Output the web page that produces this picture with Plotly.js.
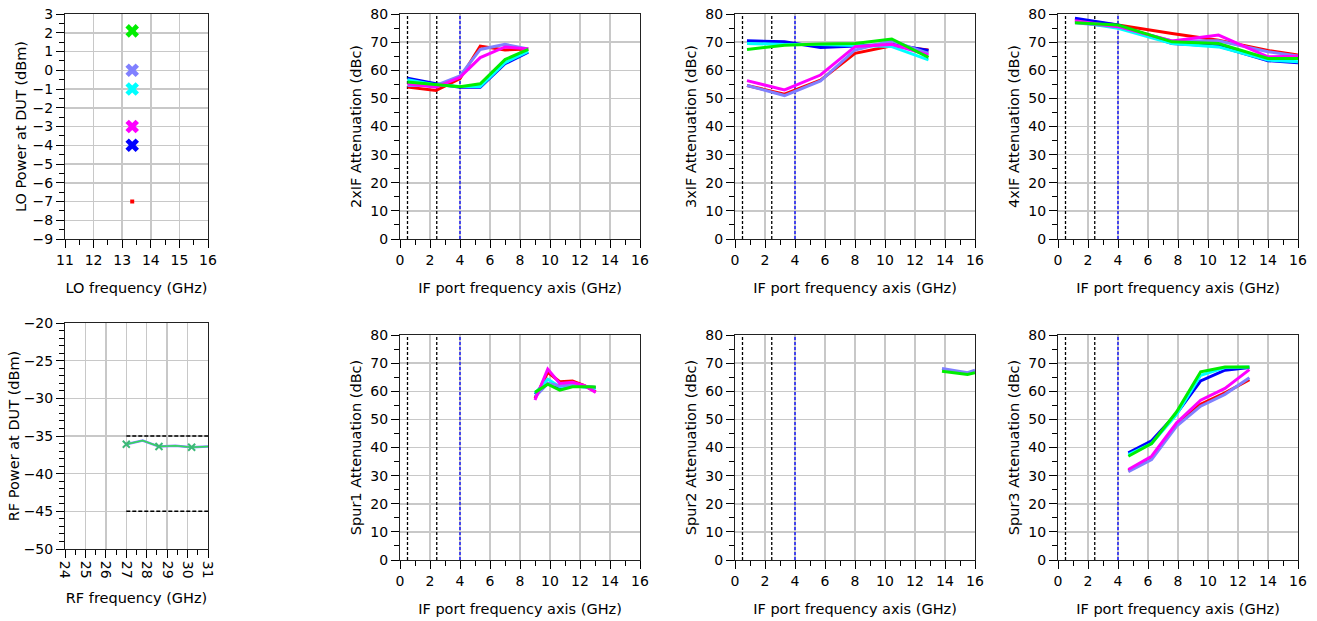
<!DOCTYPE html>
<html>
<head>
<meta charset="utf-8">
<script src="https://cdn.plot.ly/plotly-3.0.1.min.js"></script>
<style>html,body{margin:0;padding:0;background:#fff;}#chart{width:1317px;height:621px;}</style>
</head>
<body>
<div id="chart"></div>
<script>
// ---------- data ----------
const seriesNames = ['LO -7 dBm', 'LO -4 dBm', 'LO -3 dBm', 'LO -1 dBm', 'LO 0 dBm', 'LO +2 dBm'];
// LO panel
const loFreq = [13.35, 13.35, 13.35, 13.35, 13.35, 13.35];
const loPower = [-7, -4, -3, -1, 0, 2.1];
// RF panel
const rfFreq = [27, 27.8, 28.6, 29.4, 30.2, 31];
const rfPower = [-36.1, -35.6, -36.4, -36.3, -36.5, -36.4];
const rfMarkFreq = [27, 28.6, 30.2];
const rfMarkPower = [-36.1, -36.4, -36.5];
const rfLimitFreq = [27, 31];
const rfLimits = [-35, -45];
// IF reference lines
const ifBlackLines = [0.5, 2.45];
const ifBlueLine = 4;
// 2xIF
const if2Freq = [0.5, 2.4, 4.0, 5.35, 7.0, 8.55];
const if2Att = [
  [54.0, 52.8, 57.0, 68.6, 67.2, 67.6],
  [57.2, 55.2, 54.0, 54.0, 62.3, 66.4],
  [55.2, 54.0, 57.5, 64.5, 68.3, 67.6],
  [56.6, 54.8, 54.2, 54.2, 62.7, 66.7],
  [54.6, 54.6, 58.0, 67.4, 69.2, 67.6],
  [55.8, 54.8, 54.1, 55.2, 63.8, 67.4]
];
// 3xIF
const if3Freq = [0.8, 3.3, 5.7, 8.0, 10.45, 12.9];
const if3Att = [
  [54.6, 51.5, 56.5, 66.0, 68.7, 67.2],
  [70.5, 70.1, 68.1, 68.7, 69.2, 67.0],
  [56.3, 53.0, 58.3, 68.4, 69.2, 65.4],
  [69.5, 69.2, 69.2, 68.7, 68.4, 63.7],
  [54.6, 51.0, 56.2, 67.2, 70.5, 66.0],
  [67.4, 68.9, 69.3, 69.5, 71.1, 64.6]
];
// 4xIF
const if4Freq = [1.13, 4.0, 7.6, 10.7, 14.0, 16.0];
const if4Att = [
  [77.9, 76.1, 73.1, 70.7, 67.0, 65.4],
  [78.5, 76.1, 69.5, 68.6, 63.4, 62.7],
  [77.6, 75.5, 70.4, 72.5, 64.8, 65.0],
  [77.3, 74.9, 69.5, 68.3, 63.6, 63.0],
  [76.9, 75.5, 70.4, 70.5, 66.6, 65.1],
  [76.9, 76.1, 70.1, 69.5, 64.2, 64.2]
];
// Spur1
const spur1Freq = [9.0, 9.85, 10.65, 11.5, 12.3, 13.05];
const spur1Att = [
  [57.5, 66.7, 63.4, 63.6, 62.0, 59.8],
  [58.9, 62.8, 61.3, 61.9, 61.6, 61.3],
  [56.9, 67.9, 62.8, 63.2, 62.0, 59.6],
  [59.3, 64.3, 61.6, 62.0, 61.5, 61.0],
  [58.0, 62.8, 62.0, 62.2, 61.8, 61.3],
  [59.6, 62.5, 60.4, 61.6, 61.6, 61.5]
];
// Spur2 (only the two visible series)
const spur2Freq = [13.8, 15.5, 16.0];
const spur2Att = [null, null, null, null,
  [68.1, 66.6, 67.5],
  [67.1, 66.0, 66.6]
];
// Spur3
const spur3Freq = [4.69, 6.24, 7.91, 9.51, 11.13, 12.76];
const spur3Att = [
  [31.7, 36.4, 48.3, 55.4, 59.4, 64.1],
  [38.1, 42.4, 52.1, 63.7, 67.5, 68.4],
  [32.2, 36.9, 48.8, 56.8, 61.0, 67.7],
  [37.5, 41.4, 51.8, 65.7, 68.4, 68.6],
  [31.4, 35.7, 47.6, 54.7, 58.9, 64.8],
  [36.9, 41.4, 52.7, 66.9, 68.6, 68.6]
];

// ---------- styles ----------
const seriesColors = ['#ff0000', '#0000ff', '#ff00ff', '#00ffff', '#8080ff', '#00ee00'];
const drawOrder = [0, 1, 3, 4, 2, 5];
const FONT = 'DejaVu Sans, Verdana, sans-serif';
const W = 1317, H = 621;
function dx(a, b) { return [a / W, b / W]; }
function dy(top, bottom) { return [(H - bottom) / H, (H - top) / H]; }

const traces = [];
function addLines(freq, att, xa, ya) {
  drawOrder.forEach(i => {
    if (!att[i]) return;
    traces.push({x: freq, y: att[i], xaxis: xa, yaxis: ya, type: 'scatter', mode: 'lines',
      name: seriesNames[i], line: {color: seriesColors[i], width: 3}, hoverinfo: 'x+y+name', showlegend: false});
  });
}
function addRefLines(xa, ya) {
  ifBlackLines.forEach(v => traces.push({x: [v, v], y: [0, 80], xaxis: xa, yaxis: ya, mode: 'lines',
    line: {color: '#000', width: 1.3, dash: '3px,2px'}, hoverinfo: 'skip', showlegend: false}));
  traces.push({x: [ifBlueLine, ifBlueLine], y: [0, 80], xaxis: xa, yaxis: ya, mode: 'lines',
    line: {color: '#0000ff', width: 1.3, dash: '3px,2px'}, hoverinfo: 'skip', showlegend: false});
}

// LO panel
drawOrder.forEach(i => {
  traces.push({x: [loFreq[i]], y: [loPower[i]], xaxis: 'x', yaxis: 'y', mode: 'markers', name: seriesNames[i],
    marker: i === 0 ? {symbol: 'square', size: 4, color: seriesColors[i]} :
                      {symbol: 'x', size: 12, color: seriesColors[i], line: {width: 0}},
    showlegend: false});
});
// RF panel
rfLimits.forEach(v => traces.push({x: rfLimitFreq, y: [v, v], xaxis: 'x2', yaxis: 'y2', mode: 'lines',
  line: {color: '#000', width: 1.5, dash: '4px,2px'}, hoverinfo: 'skip', showlegend: false}));
traces.push({x: rfFreq, y: rfPower, xaxis: 'x2', yaxis: 'y2', mode: 'lines', line: {color: '#8080ff', width: 2.5}, showlegend: false});
traces.push({x: rfFreq, y: rfPower, xaxis: 'x2', yaxis: 'y2', mode: 'lines', line: {color: '#33dd55', width: 1.5}, showlegend: false});
traces.push({x: rfMarkFreq, y: rfMarkPower, xaxis: 'x2', yaxis: 'y2', mode: 'markers',
  marker: {symbol: 'x-thin', size: 7, line: {color: '#3cb878', width: 2}}, showlegend: false});

addRefLines('x3', 'y3'); addLines(if2Freq, if2Att, 'x3', 'y3');
addRefLines('x4', 'y4'); addLines(if3Freq, if3Att, 'x4', 'y4');
addRefLines('x5', 'y5'); addLines(if4Freq, if4Att, 'x5', 'y5');
addRefLines('x6', 'y6'); addLines(spur1Freq, spur1Att, 'x6', 'y6');
addRefLines('x7', 'y7'); addLines(spur2Freq, spur2Att, 'x7', 'y7');
addRefLines('x8', 'y8'); addLines(spur3Freq, spur3Att, 'x8', 'y8');

// ---------- axes ----------
function baseAxis(extra) {
  return Object.assign({
    showgrid: true, gridcolor: '#c8c8c8', gridwidth: 1.5, zeroline: false,
    showline: true, linecolor: '#222', linewidth: 1, mirror: true,
    ticks: 'outside', ticklen: 8, tickcolor: '#000', tickwidth: 1,
    tickfont: {family: FONT, size: 14, color: '#000'}, fixedrange: true
  }, extra);
}
function xTitle(t) { return {text: t, font: {family: FONT, size: 14.5, color: '#000'}}; }
const colIF = [dx(400, 640), dx(735, 975), dx(1058, 1298)];
const topRow = dy(14, 239), botRow = dy(335, 560);

const layout = {
  width: W, height: H, margin: {l: 0, r: 0, t: 0, b: 0}, paper_bgcolor: '#fff', plot_bgcolor: '#fff',
  showlegend: false, font: {family: FONT, size: 14, color: '#000'},
  xaxis: baseAxis({domain: dx(65, 208), anchor: 'y', range: [11, 16], dtick: 1, tick0: 11,
    minor: {dtick: 0.5, ticks: 'outside', ticklen: 5, tickcolor: '#000', showgrid: false},
    title: xTitle('LO frequency (GHz)')}),
  yaxis: baseAxis({domain: topRow, anchor: 'x', range: [-9, 3], dtick: 1, tick0: 0,
    minor: {dtick: 0.5, ticks: 'outside', ticklen: 5, tickcolor: '#000', showgrid: false},
    title: xTitle('LO Power at DUT (dBm)')}),
  xaxis2: baseAxis({domain: dx(65, 208), anchor: 'y2', range: [24, 31], dtick: 1, tick0: 24, tickangle: 90,
    minor: {dtick: 0.5, ticks: 'outside', ticklen: 5, tickcolor: '#000', showgrid: false},
    title: xTitle('RF frequency (GHz)')}),
  yaxis2: baseAxis({domain: dy(323, 549), anchor: 'x2', range: [-50, -20], dtick: 5, tick0: -50,
    minor: {dtick: 1, ticks: 'outside', ticklen: 5, tickcolor: '#000', showgrid: false},
    title: xTitle('RF Power at DUT (dBm)')})
};
const yTitles = ['2xIF Attenuation (dBc)', '3xIF Attenuation (dBc)', '4xIF Attenuation (dBc)',
                 'Spur1 Attenuation (dBc)', 'Spur2 Attenuation (dBc)', 'Spur3 Attenuation (dBc)'];
for (let k = 0; k < 6; k++) {
  const n = k + 3;
  const col = colIF[k % 3];
  const row = k < 3 ? topRow : botRow;
  layout['xaxis' + n] = baseAxis({domain: col, anchor: 'y' + n, range: [0, 16], dtick: 2, tick0: 0,
    minor: {dtick: 1, ticks: 'outside', ticklen: 5, tickcolor: '#000', showgrid: false},
    title: xTitle('IF port frequency axis (GHz)')});
  layout['yaxis' + n] = baseAxis({domain: row, anchor: 'x' + n, range: [0, 80], dtick: 10, tick0: 0,
    minor: {dtick: 5, ticks: 'outside', ticklen: 5, tickcolor: '#000', showgrid: false},
    title: xTitle(yTitles[k])});
}

Plotly.newPlot('chart', traces, layout, {displayModeBar: false, staticPlot: true});
</script>
</body>
</html>
